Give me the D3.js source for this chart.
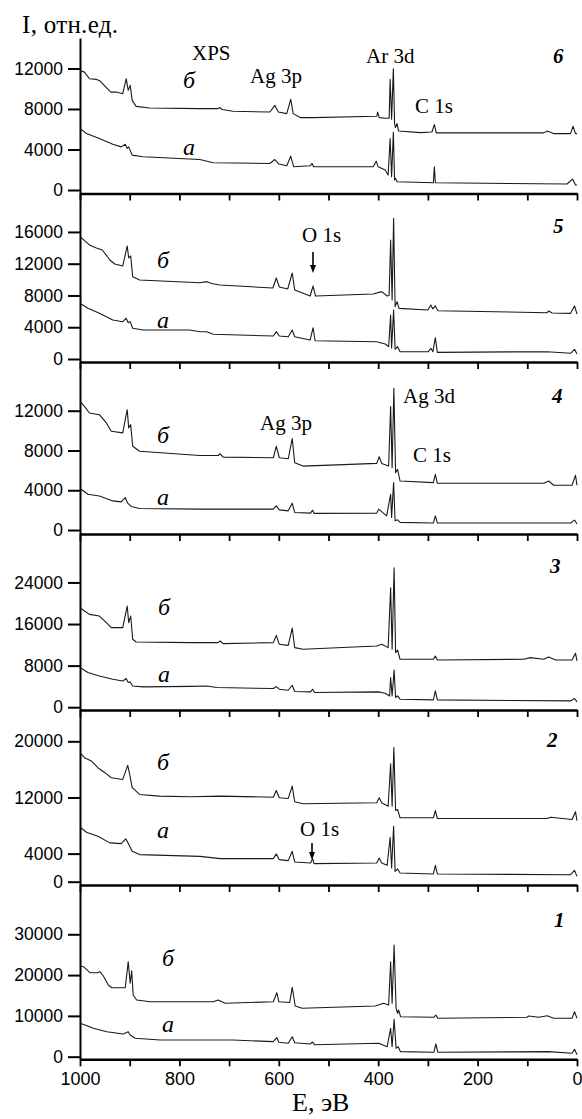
<!DOCTYPE html>
<html>
<head>
<meta charset="utf-8">
<script src="https://cdn.jsdelivr.net/npm/d3@7"></script>
<style>
  body { margin: 0; background: #fff; }
  svg { display: block; }
  .serif { font-family: "Liberation Serif", "Times New Roman", serif; }
</style>
</head>
<body>
<script>
// panel order top -> bottom
const panelNames = ["6", "5", "4", "3", "2", "1"];
const yDomains = [[-346, 15010], [-378, 20840], [-400, 16900], [-540, 33320], [-470, 24460], [-640, 42080]];
const yTicks = [
    [0, 4000, 8000, 12000],
    [0, 4000, 8000, 12000, 16000],
    [0, 4000, 8000, 12000],
    [0, 8000, 16000, 24000],
    [0, 4000, 12000, 20000],
    [0, 10000, 20000, 30000]
];
const xTickValues = [1000, 900, 800, 700, 600, 500, 400, 300, 200, 100, 0];
const xTickLabels = [1000, 800, 600, 400, 200, 0];

// spectra [E, eV ; I, a.u.], curve "б" (upper) and "а" (lower)
const spec6b = [[1000,11800],[991,11640],[981,10990],[967,10920],[961,10820],[947,10100],[938,9670],[927,9670],[914,9510],[907,10990],[903,9840],[899,10330],[895,8850],[887,8260],[860,8100],[759,8040],[722,8040],[719,8150],[714,7950],[692,7770],[618,7700],[608,8360],[601,7700],[584,7540],[576,8950],[571,7540],[557,7150],[531,7150],[403,7280],[401,7700],[398,7150],[384,7080],[378,7100],[376,10920],[373,7000],[369.5,11970],[367,6500],[365,6170],[362,6560],[359,5830],[315,5670],[292,5730],[287,6460],[283,5640],[67,5640],[60,5830],[47,5570],[13,5570],[8,6290],[3,5570],[0,5570]];
const spec6a = [[1000,6070],[987,5570],[961,5080],[934,4520],[917,4260],[909,4520],[905,4100],[902,4260],[895,3440],[873,3280],[759,3010],[732,2690],[618,2620],[608,3010],[600,2560],[584,2390],[576,3340],[570,2290],[537,2390],[533,2620],[530,2290],[410,2290],[404,2850],[400,2290],[386,1970],[380,1475],[376,5080],[373,1310],[369.5,5700],[367,980],[365,1150],[362,820],[289,720],[287,2290],[285,720],[20,590],[9,1080],[3,490],[0,490]];

const spec5b = [[1000,15400],[981,14360],[967,13980],[955,13730],[940,12470],[930,11960],[914,11710],[905,14230],[902,12720],[898,12970],[894,10370],[880,9950],[759,9610],[745,9740],[735,9500],[719,9320],[612,8940],[605,10200],[599,9070],[582,8820],[573,10830],[568,8690],[537,7930],[531,9190],[526,7930],[410,8190],[393,8480],[382,7930],[378,8000],[375,14990],[372,7430],[369,17720],[366,6590],[362,7220],[358,6380],[300,6170],[294,6800],[290,6300],[285,6680],[280,6080],[60,5830],[57,6050],[50,5790],[13,5750],[5,6680],[0,5670]];
const spec5a = [[1000,7010],[984,6380],[961,5750],[934,4910],[914,4700],[907,5130],[903,4570],[899,4700],[894,3870],[873,3650],[779,3650],[759,3440],[745,3440],[732,3110],[611,2900],[605,3440],[599,2900],[581,2810],[573,3650],[568,2810],[537,2390],[531,3940],[527,2300],[403,2180],[386,1890],[379,1550],[375,5540],[373,1350],[369,6170],[366,1220],[361,1550],[356,920],[299,920],[294,1350],[290,920],[285,2680],[281,840],[60,920],[13,720],[5,1220],[0,630]];

const spec4b = [[1000,12930],[991,12430],[981,11770],[961,11600],[947,10770],[937,9930],[914,9770],[905,12100],[902,10270],[898,10600],[894,8430],[880,7930],[759,7500],[722,7500],[718,7670],[712,7330],[611,7270],[605,8430],[599,7270],[581,7170],[573,9200],[568,6770],[551,6430],[403,6700],[398,7370],[393,6700],[379,6430],[375,12430],[372,6270],[368.5,14270],[365,5770],[361,6100],[356,4930],[289,4770],[285,5600],[281,4700],[67,4700],[57,4930],[47,4500],[10,4500],[3,5500],[0,4500]];
const spec4a = [[1000,4170],[984,3600],[961,3430],[934,2930],[917,2830],[909,3270],[904,2700],[897,2370],[880,2170],[759,2100],[611,2100],[605,2430],[599,2030],[581,1930],[573,2700],[568,1770],[536,1700],[532,2000],[529,1670],[403,1700],[399,2100],[383,1430],[375,3600],[373,1270],[369,4770],[366,930],[361,1030],[356,770],[289,700],[285,1430],[281,700],[13,700],[5,1000],[0,600]];

const spec3b = [[1000,19140],[991,18500],[981,17860],[961,17530],[947,16260],[937,15300],[914,15300],[905,19450],[902,16260],[898,17530],[894,13060],[887,12540],[779,12420],[722,12420],[718,12730],[712,12230],[611,12420],[605,13820],[599,12100],[581,11900],[573,15230],[568,11460],[551,11140],[403,11770],[393,12100],[380,11460],[375,22980],[372,11140],[368,26820],[365,10500],[361,11000],[356,9220],[289,9220],[285,9850],[281,9080],[107,9220],[94,9540],[67,9220],[57,9660],[43,9080],[10,9080],[3,10370],[0,8900]];
const spec3a = [[1000,7620],[984,6660],[961,6010],[934,5380],[914,5050],[907,5510],[903,4740],[899,4860],[894,4090],[873,3900],[779,4000],[745,4090],[725,3780],[611,3590],[605,3970],[599,3460],[581,3260],[573,4220],[568,3010],[536,2940],[532,3460],[528,2820],[400,2940],[386,2690],[377,2170],[375,5700],[372,2170],[368,7160],[365,1860],[361,2170],[356,1540],[289,1400],[285,3130],[281,1400],[13,1210],[5,1670],[0,1020]];

const spec2b = [[1000,18380],[991,17670],[977,17190],[964,16240],[950,15530],[937,14810],[914,14570],[904,16570],[900,15290],[895,13390],[880,12430],[840,12190],[779,12100],[718,12190],[611,12040],[605,13000],[599,11960],[581,11860],[573,13610],[568,11390],[551,11100],[403,11240],[398,11960],[393,11240],[380,10760],[375,16810],[372,10760],[368.5,19100],[365,10140],[361,10290],[356,9100],[289,9100],[285,10140],[281,9000],[60,9000],[53,9190],[10,8860],[3,9960],[0,8710]];
const spec2a = [[1000,7810],[987,7050],[964,6470],[940,5530],[917,5430],[908,6100],[904,5610],[895,4330],[880,3860],[759,3610],[718,3290],[611,3290],[605,3960],[599,3140],[581,3000],[573,4330],[568,2810],[536,2670],[532,3290],[529,2570],[403,2670],[398,3390],[393,2670],[382,2330],[376,6330],[373,1960],[369,7900],[366,1470],[361,1810],[356,1240],[289,1100],[285,2330],[281,1100],[13,1000],[5,1610],[0,760]];

const spec1b = [[1000,22230],[993,22060],[980,20590],[966,20590],[960,20830],[953,19780],[943,17570],[936,16910],[909,16910],[903,23280],[899,17990],[896,21080],[893,15120],[886,13900],[859,13480],[732,13480],[722,13900],[708,13090],[611,13480],[604,15690],[600,13480],[578,13300],[573,17010],[567,12430],[553,11860],[406,12430],[389,13090],[379,12670],[375,23280],[372,13090],[368,27380],[364,11860],[361,10640],[359,11450],[355,9800],[288,9660],[284,10220],[280,9410],[101,9660],[97,9980],[77,9660],[60,10050],[47,9410],[10,9410],[5,11030],[0,9410]];
const spec1a = [[1000,8190],[990,7770],[973,6960],[946,6130],[913,5560],[903,6130],[899,5320],[889,4510],[839,4090],[692,4090],[611,3680],[604,4660],[600,3530],[581,3280],[573,4900],[568,3430],[537,3110],[532,3600],[528,2940],[399,3280],[382,2450],[375,6960],[372,2450],[368,9170],[364,2060],[360,2450],[355,1230],[288,1080],[284,3110],[280,1080],[57,1230],[10,830],[5,1810],[0,490]];

const upper = [spec6b, spec5b, spec4b, spec3b, spec2b, spec1b];
const lower = [spec6a, spec5a, spec4a, spec3a, spec2a, spec1a];

// layout in px
const W = 582, H = 1119;
const xLeft = 80, xRight = 577;
const bands = [[38, 193.5], [193.5, 362], [362, 534], [534, 710], [710, 885], [885, 1059.3]];
const curveLabelPos = [[183, 88, 155], [157, 268, 328], [157, 443, 505], [158, 615, 682], [157, 770, 838], [162, 966, 1032]];
const panelNumPos = [[553, 63], [553, 233], [552, 403], [550, 573], [547, 747], [554, 927]];
const notes = [
    {t: "XPS", x: 192, y: 60},
    {t: "Ag 3p", x: 250, y: 83},
    {t: "Ar 3d", x: 366, y: 63},
    {t: "C 1s", x: 415, y: 113},
    {t: "O 1s", x: 302, y: 242},
    {t: "Ag 3p", x: 260, y: 430},
    {t: "Ag 3d", x: 403, y: 403},
    {t: "C 1s", x: 413, y: 462},
    {t: "O 1s", x: 300, y: 836}
];
const arrows = [[313, 252, 273], [312, 843, 860]];

const svg = d3.select("body").append("svg")
    .attr("width", W)
    .attr("height", H);

const x = d3.scaleLinear().domain([1000, 0]).range([xLeft, xRight]);

bands.forEach((b, i) => {
    let y = d3.scaleLinear().domain(yDomains[i]).range([b[1], b[0]]);
    let g = svg.append("g");

    let ya = g.append("g")
        .attr("transform", `translate(${xLeft},0)`)
        .call(d3.axisLeft(y).tickValues(yTicks[i]).tickSize(12).tickSizeOuter(0).tickPadding(5)
            .tickFormat(d3.format("d")));
    ya.attr("font-family", "'Liberation Sans', Arial, sans-serif").attr("font-size", 17.5);
    ya.selectAll("path, line").attr("stroke", "#000").attr("stroke-width", 2);
    ya.selectAll("text").attr("fill", "#000");

    let last = i === bands.length - 1;
    let xa = g.append("g")
        .attr("transform", `translate(0,${b[1]})`)
        .call(d3.axisBottom(x).tickValues(xTickValues).tickSize(7).tickSizeOuter(0).tickPadding(6)
            .tickFormat(d => (last && xTickLabels.includes(d)) ? d : ""));
    xa.attr("font-family", "'Liberation Sans', Arial, sans-serif").attr("font-size", 18);
    xa.selectAll("path").attr("stroke", "#000").attr("stroke-width", 2.4);
    xa.selectAll("line").attr("stroke", "#000").attr("stroke-width", 1.8);
    xa.selectAll("text").attr("fill", "#000");

    let line = d3.line().x(d => x(d[0])).y(d => y(d[1]));
    [upper[i], lower[i]].forEach(s => {
        g.append("path")
            .datum(s)
            .attr("d", line)
            .attr("fill", "none")
            .attr("stroke", "#1a1a1a")
            .attr("stroke-width", 1.1)
            .attr("stroke-linejoin", "round");
    });

    let lp = curveLabelPos[i];
    g.append("text").attr("class", "serif").attr("x", lp[0]).attr("y", lp[1])
        .attr("font-size", 24).attr("font-style", "italic").text("б");
    g.append("text").attr("class", "serif").attr("x", lp[0]).attr("y", lp[2])
        .attr("font-size", 24).attr("font-style", "italic").text("а");

    g.append("text").attr("class", "serif")
        .attr("x", panelNumPos[i][0]).attr("y", panelNumPos[i][1])
        .attr("font-size", 21).attr("font-style", "italic").attr("font-weight", "bold")
        .text(panelNames[i]);
});

svg.selectAll(".note").data(notes).enter().append("text")
    .attr("class", "note serif")
    .attr("x", d => d.x).attr("y", d => d.y)
    .attr("font-size", 21)
    .text(d => d.t);

arrows.forEach(a => {
    svg.append("line").attr("x1", a[0]).attr("x2", a[0]).attr("y1", a[1]).attr("y2", a[2] - 6)
        .attr("stroke", "#000").attr("stroke-width", 1.6);
    svg.append("path")
        .attr("d", `M${a[0] - 3},${a[2] - 8} L${a[0] + 3},${a[2] - 8} L${a[0]},${a[2]} Z`)
        .attr("fill", "#000");
});

svg.append("text").attr("class", "serif").attr("x", 22).attr("y", 33)
    .attr("font-size", 25).attr("letter-spacing", 0.3).text("I, отн.ед.");
svg.append("text").attr("class", "serif").attr("x", 292).attr("y", 1111)
    .attr("font-size", 26).text("E, эВ");
</script>
</body>
</html>
